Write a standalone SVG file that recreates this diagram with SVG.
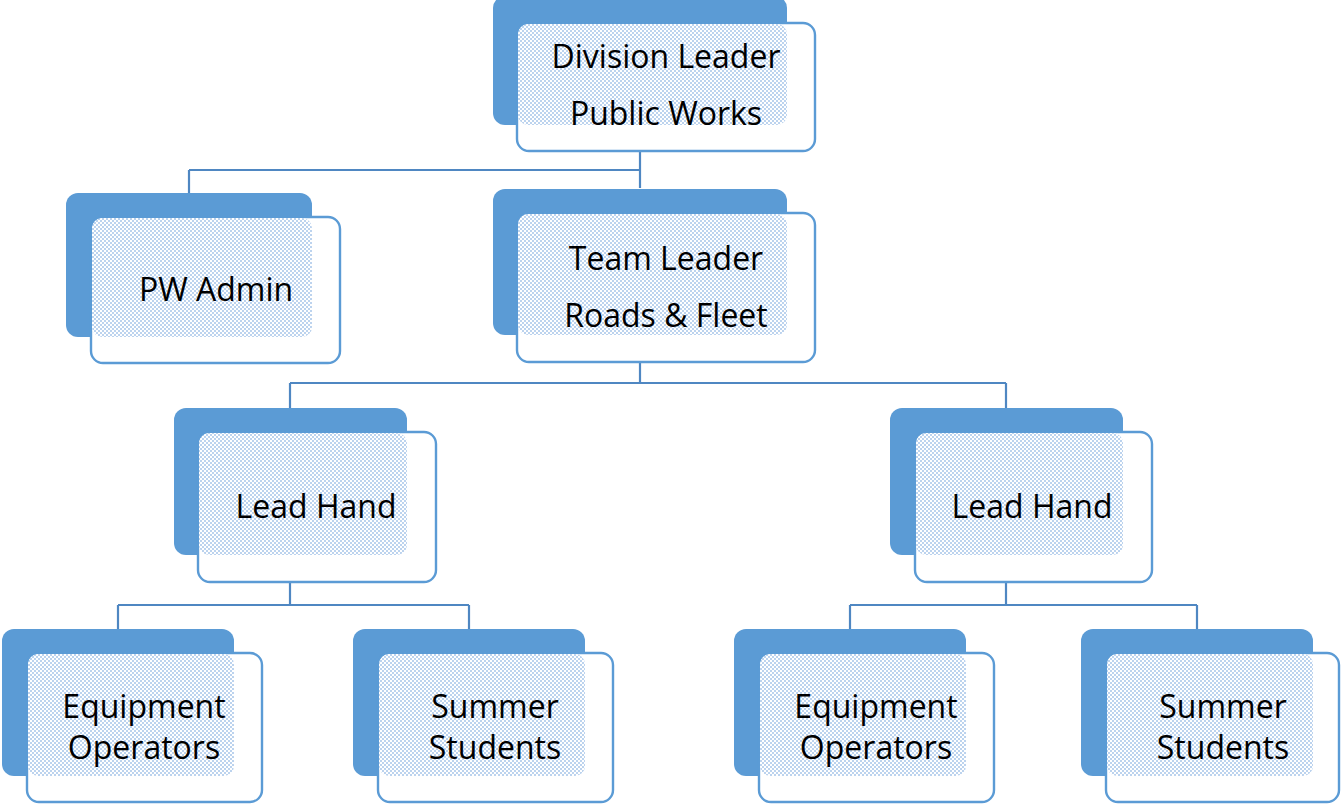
<svg xmlns="http://www.w3.org/2000/svg" width="1341" height="805" viewBox="0 0 1341 805">
<defs>
<pattern id="dots" width="4" height="4" patternUnits="userSpaceOnUse">
<rect width="4" height="4" fill="#ffffff"/>
<rect x="0" y="0" width="2" height="2" fill="#bcd3ee"/>
<rect x="2" y="2" width="2" height="2" fill="#bcd3ee"/>
</pattern>
</defs>
<style>
.back{fill:#5b9bd5}
.front{fill:#ffffff;stroke:#5b9bd5;stroke-width:2.4}
.ov{fill:url(#dots)}
.t{font-family:"Open Sans","Liberation Sans",sans-serif;font-size:32px;fill:#000;text-anchor:middle}
.c{fill:none;stroke:#4f87c2;stroke-width:2.2}
</style>
<g id="connectors">
<path class="c" d="M640 151V188M189 170H640M189 170V193"/>
<path class="c" d="M640 362V383M290 383H1006M290 383V408M1006 383V408"/>
<path class="c" d="M290 582V605M118 605H469M118 605V630M469 605V630"/>
<path class="c" d="M1006 582V605M850 605H1197M850 605V630M1197 605V630"/>
</g>
<g id="division-leader">
<rect class="back" x="493" y="-4" width="294" height="129" rx="12"/>
<rect class="front" x="517" y="23" width="298" height="128" rx="12"/>
<rect class="ov" x="518" y="24" width="269" height="101" rx="10"/>
<text class="t" x="666" y="68">Division Leader</text>
<text class="t" x="666" y="125">Public Works</text>
</g>
<g id="pw-admin">
<rect class="back" x="66" y="193" width="246" height="144" rx="12"/>
<rect class="front" x="91" y="217" width="249" height="146" rx="12"/>
<rect class="ov" x="92" y="218" width="220" height="119" rx="10"/>
<text class="t" x="216" y="301">PW Admin</text>
</g>
<g id="team-leader">
<rect class="back" x="493" y="189" width="294" height="146" rx="12"/>
<rect class="front" x="517" y="213" width="298" height="149" rx="12"/>
<rect class="ov" x="518" y="214" width="269" height="121" rx="10"/>
<text class="t" x="666" y="270">Team Leader</text>
<text class="t" x="666" y="327">Roads &amp; Fleet</text>
</g>
<g id="lead-hand-left">
<rect class="back" x="174" y="408" width="233" height="147" rx="12"/>
<rect class="front" x="198" y="432" width="238" height="150" rx="12"/>
<rect class="ov" x="199" y="433" width="208" height="122" rx="10"/>
<text class="t" x="316" y="518">Lead Hand</text>
</g>
<g id="lead-hand-right">
<rect class="back" x="890" y="408" width="233" height="147" rx="12"/>
<rect class="front" x="915" y="432" width="237" height="150" rx="12"/>
<rect class="ov" x="916" y="433" width="207" height="122" rx="10"/>
<text class="t" x="1032" y="518">Lead Hand</text>
</g>
<g id="equipment-operators-left">
<rect class="back" x="2" y="629" width="232" height="147" rx="12"/>
<rect class="front" x="27" y="653" width="235" height="149" rx="12"/>
<rect class="ov" x="28" y="654" width="206" height="122" rx="10"/>
<text class="t" x="144" y="718">Equipment</text>
<text class="t" x="144" y="759">Operators</text>
</g>
<g id="summer-students-left">
<rect class="back" x="353" y="629" width="232" height="147" rx="12"/>
<rect class="front" x="378" y="653" width="235" height="149" rx="12"/>
<rect class="ov" x="379" y="654" width="206" height="122" rx="10"/>
<text class="t" x="495" y="718">Summer</text>
<text class="t" x="495" y="759">Students</text>
</g>
<g id="equipment-operators-right">
<rect class="back" x="734" y="629" width="232" height="147" rx="12"/>
<rect class="front" x="759" y="653" width="235" height="149" rx="12"/>
<rect class="ov" x="760" y="654" width="206" height="122" rx="10"/>
<text class="t" x="876" y="718">Equipment</text>
<text class="t" x="876" y="759">Operators</text>
</g>
<g id="summer-students-right">
<rect class="back" x="1081" y="629" width="232" height="147" rx="12"/>
<rect class="front" x="1106" y="653" width="233" height="149" rx="12"/>
<rect class="ov" x="1107" y="654" width="206" height="122" rx="10"/>
<text class="t" x="1223" y="718">Summer</text>
<text class="t" x="1223" y="759">Students</text>
</g>
</svg>
